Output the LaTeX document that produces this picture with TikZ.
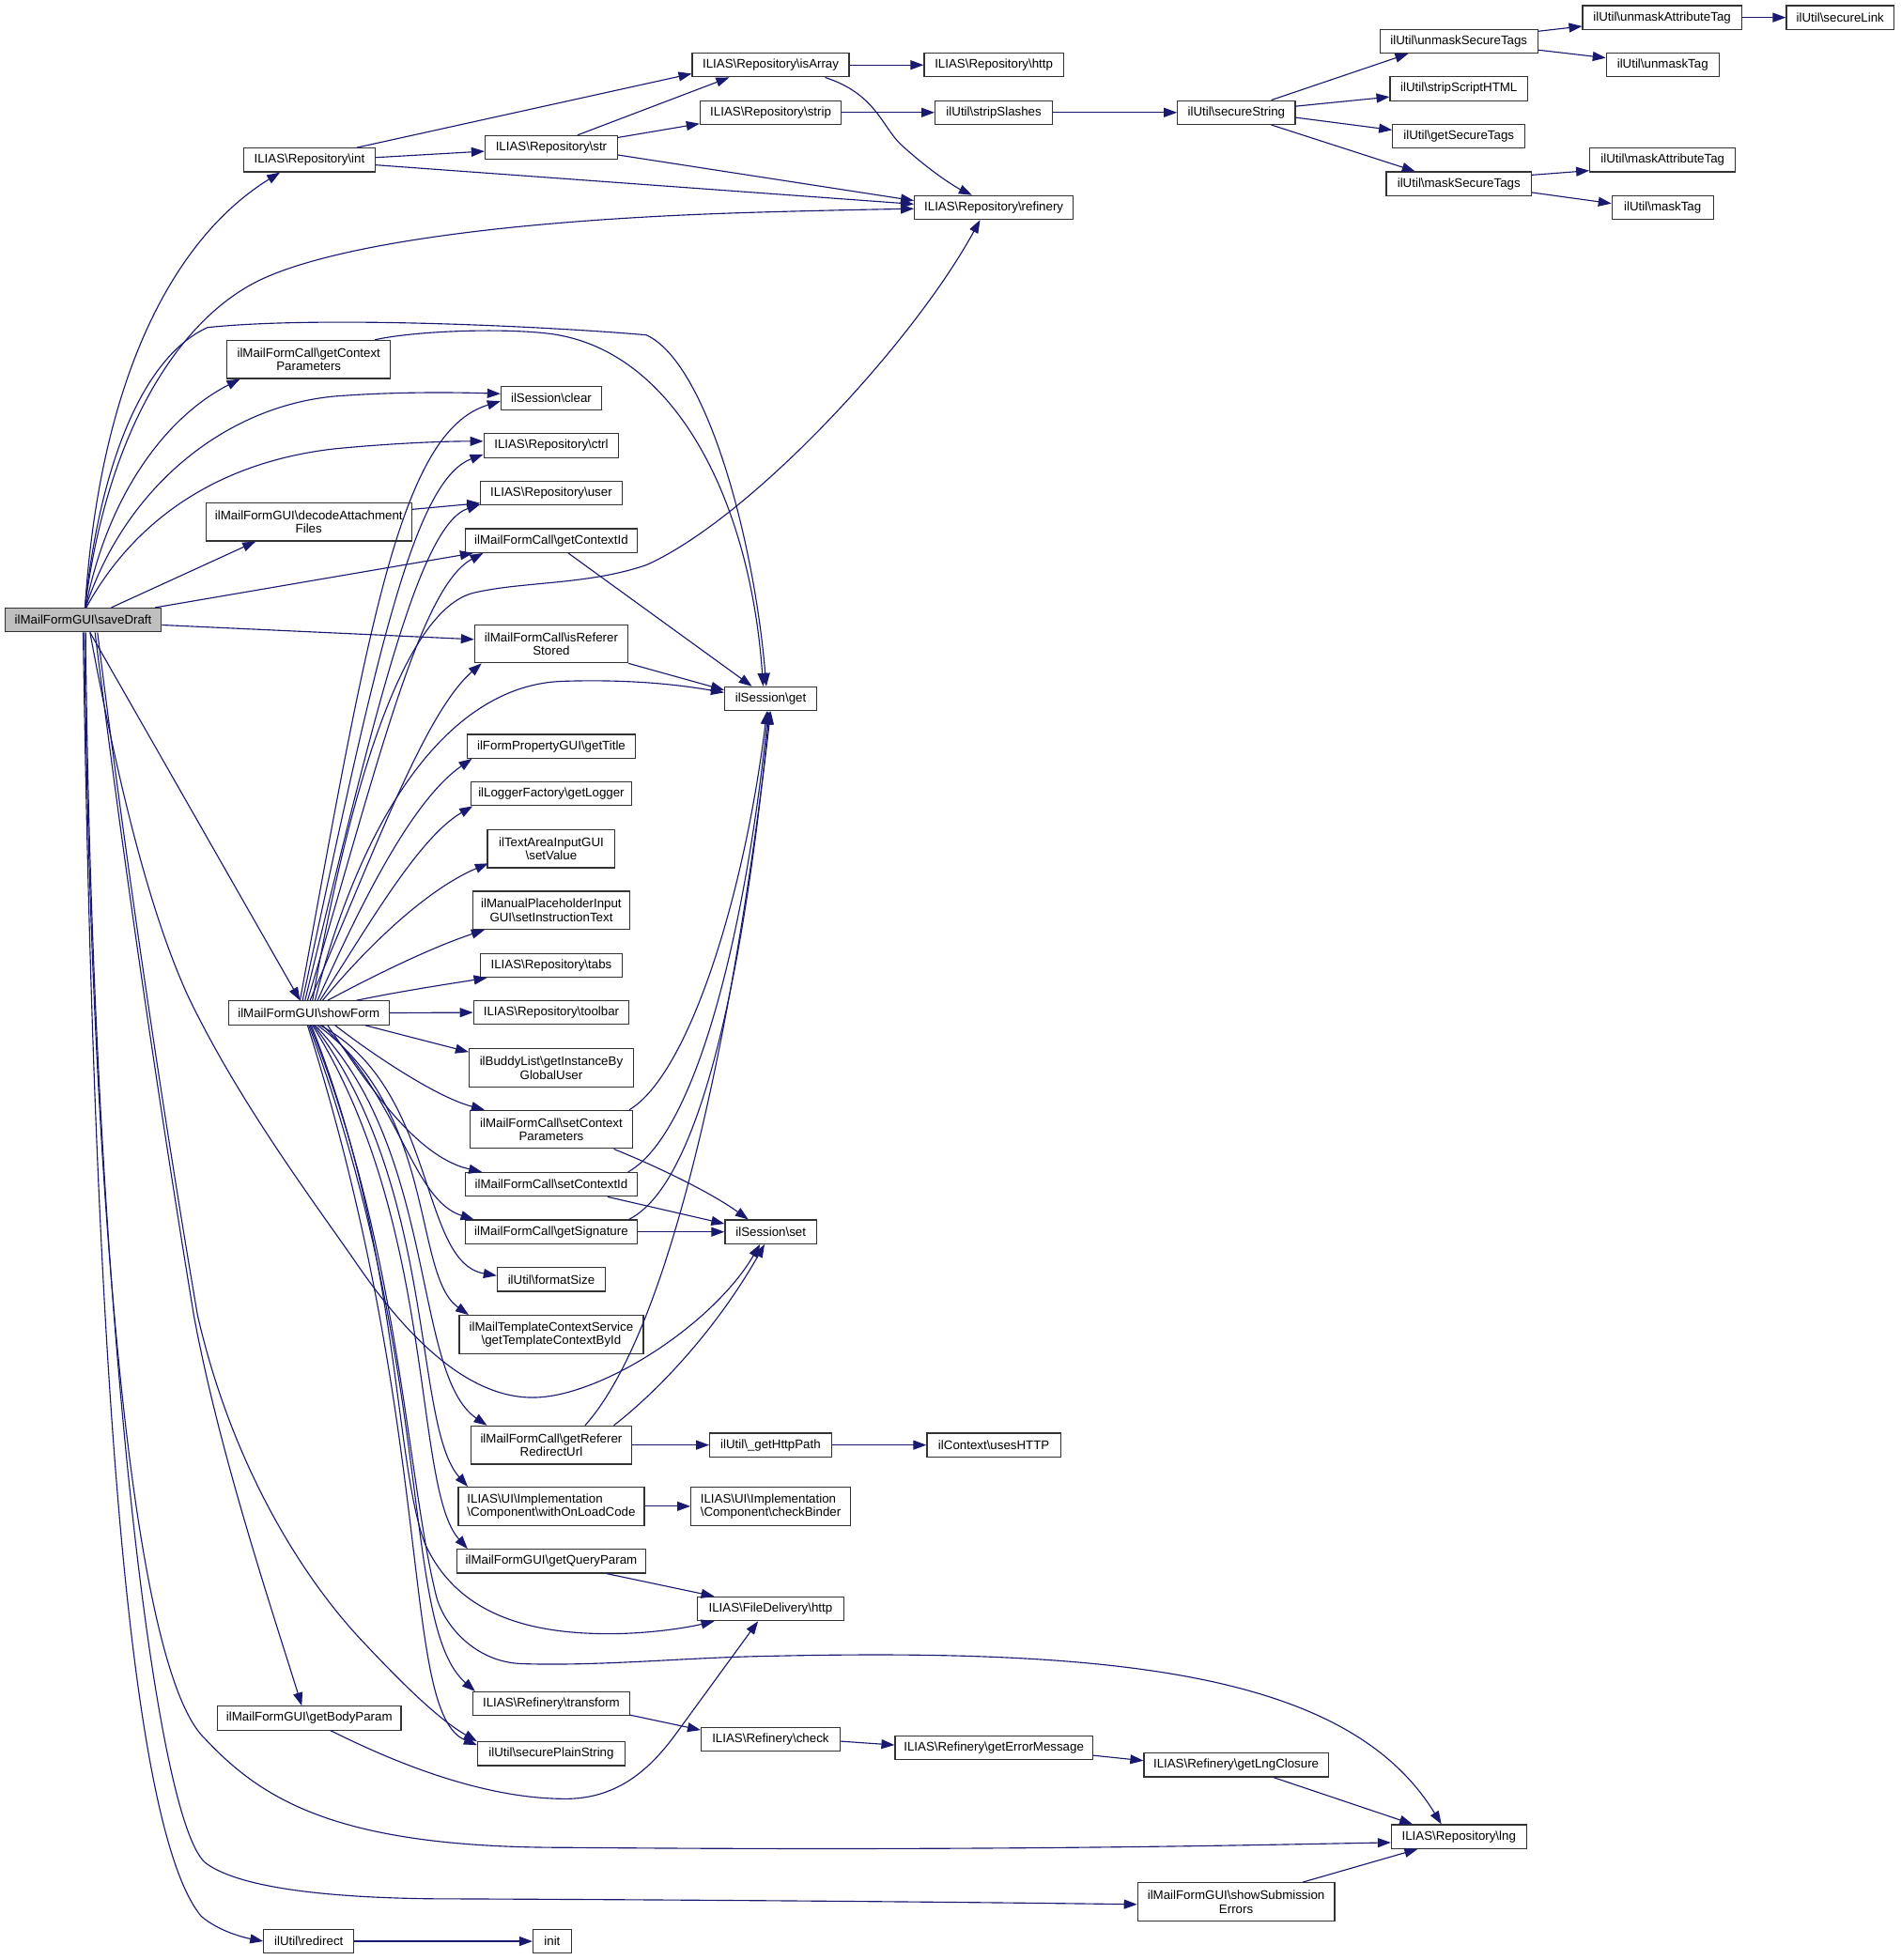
\documentclass[tikz,border=0pt]{standalone}
\usepackage{fontspec}
\setmainfont{Liberation Sans}
\usetikzlibrary{arrows.meta}
\definecolor{edgecol}{HTML}{191970}
\definecolor{nodefill}{HTML}{BFBFBF}
\newcommand{\bsl}{\textbackslash}
\begin{document}
\begin{tikzpicture}[x=1pt,y=-1pt,
 box/.style={draw=black!80, fill=white, line width=0.9pt, inner sep=0pt, minimum height=19pt, font=\fontsize{10}{10.8}\selectfont, align=center},
 boxtwo/.style={box, minimum height=30.5pt},
 edge/.style={draw=edgecol, line width=0.85pt, -{Triangle[length=10.5pt,width=7.5pt]}}]
\useasboundingbox[fill=white] (0,0) rectangle (1520,1568);

% nodes
\node[box, fill=nodefill, minimum width=125pt] (saveDraft) at (66.5,496) {ilMailFormGUI\bsl saveDraft};
\node[box, minimum width=105.5pt] (int) at (247.5,128) {ILIAS\bsl Repository\bsl int};
\node[box, minimum width=106pt] (str) at (441,118) {ILIAS\bsl Repository\bsl str};
\node[box, minimum width=125.5pt] (isArray) at (616.5,52) {ILIAS\bsl Repository\bsl isArray};
\node[box, minimum width=111.5pt] (rhttp) at (795,52) {ILIAS\bsl Repository\bsl http};
\node[box, minimum width=113pt] (strip) at (616.5,90) {ILIAS\bsl Repository\bsl strip};
\node[box, minimum width=94pt] (stripSlashes) at (795,90) {ilUtil\bsl stripSlashes};
\node[box, minimum width=94pt] (secureString) at (989,90) {ilUtil\bsl secureString};
\node[box, minimum width=127pt] (refinery) at (795,166) {ILIAS\bsl Repository\bsl refinery};
\node[box, minimum width=126pt] (unmaskSecureTags) at (1167,33) {ilUtil\bsl unmaskSecureTags};
\node[box, minimum width=127pt] (unmaskAttributeTag) at (1329.5,14) {ilUtil\bsl unmaskAttributeTag};
\node[box, minimum width=86pt] (secureLink) at (1472,14) {ilUtil\bsl secureLink};
\node[box, minimum width=90pt] (unmaskTag) at (1330,52) {ilUtil\bsl unmaskTag};
\node[box, minimum width=110pt] (stripScriptHTML) at (1167,71) {ilUtil\bsl stripScriptHTML};
\node[box, minimum width=106pt] (getSecureTags) at (1167,109) {ilUtil\bsl getSecureTags};
\node[box, minimum width=116pt] (maskSecureTags) at (1167,147) {ilUtil\bsl maskSecureTags};
\node[box, minimum width=116.5pt] (maskAttributeTag) at (1330,128) {ilUtil\bsl maskAttributeTag};
\node[box, minimum width=81pt] (maskTag) at (1330,166) {ilUtil\bsl maskTag};
\node[boxtwo, minimum width=130.6pt] (getContextParameters) at (247,287.5) {ilMailFormCall\bsl getContext\\Parameters};
\node[box, minimum width=80.5pt] (clear) at (441,318.4) {ilSession\bsl clear};
\node[box, minimum width=108pt] (ctrl) at (441,356.5) {ILIAS\bsl Repository\bsl ctrl};
\node[box, minimum width=113pt] (user) at (441,394.5) {ILIAS\bsl Repository\bsl user};
\node[boxtwo, minimum width=164.4pt] (decodeAttachmentFiles) at (247,417.5) {ilMailFormGUI\bsl decodeAttachment\\Files};
\node[box, minimum width=138pt] (getContextId) at (441,432.5) {ilMailFormCall\bsl getContextId};
\node[boxtwo, minimum width=122.6pt] (isRefererStored) at (441,515) {ilMailFormCall\bsl isReferer\\Stored};
\node[box, minimum width=73.7pt] (get) at (616.5,559) {ilSession\bsl get};
\node[box, minimum width=134pt] (getTitle) at (441,597) {ilFormPropertyGUI\bsl getTitle};
\node[box, minimum width=129pt] (getLogger) at (441,635) {ilLoggerFactory\bsl getLogger};
\node[boxtwo, minimum width=102pt] (setValue) at (441,679) {ilTextAreaInputGUI\\\bsl setValue};
\node[boxtwo, minimum width=126pt] (setInstructionText) at (441,728.2) {ilManualPlaceholderInput\\GUI\bsl setInstructionText};
\node[box, minimum width=114pt] (tabs) at (441,772.3) {ILIAS\bsl Repository\bsl tabs};
\node[box, minimum width=124.4pt] (toolbar) at (441,810) {ILIAS\bsl Repository\bsl toolbar};
\node[box, minimum width=128.5pt] (showForm) at (247,810.3) {ilMailFormGUI\bsl showForm};
\node[boxtwo, minimum width=131.4pt] (getInstanceByGlobalUser) at (441,854.3) {ilBuddyList\bsl getInstanceBy\\GlobalUser};
\node[boxtwo, minimum width=130pt] (setContextParameters) at (441,903.5) {ilMailFormCall\bsl setContext\\Parameters};
\node[box, minimum width=138pt] (setContextId) at (441,947.5) {ilMailFormCall\bsl setContextId};
\node[box, minimum width=137pt] (getSignature) at (441,985.5) {ilMailFormCall\bsl getSignature};
\node[box, minimum width=73.3pt] (set) at (616.6,985.5) {ilSession\bsl set};
\node[box, minimum width=86.5pt] (formatSize) at (441,1023.5) {ilUtil\bsl formatSize};
\node[boxtwo, minimum width=147.3pt] (getTemplateContextById) at (441,1067.6) {ilMailTemplateContextService\\\bsl getTemplateContextById};
\node[boxtwo, minimum width=128pt] (getRefererRedirectUrl) at (441,1156) {ilMailFormCall\bsl getReferer\\RedirectUrl};
\node[box, minimum width=97.3pt] (getHttpPath) at (616.4,1156) {ilUtil\bsl\_getHttpPath};
\node[box, minimum width=107pt] (usesHTTP) at (795,1156) {ilContext\bsl usesHTTP};
\node[boxtwo, minimum width=148.7pt, align=left] (withOnLoadCode) at (441,1205) {ILIAS\bsl UI\bsl Implementation\\\bsl Component\bsl withOnLoadCode};
\node[boxtwo, minimum width=127.7pt, align=left] (checkBinder) at (616.5,1205) {ILIAS\bsl UI\bsl Implementation\\\bsl Component\bsl checkBinder};
\node[box, minimum width=151pt] (getQueryParam) at (441,1249) {ilMailFormGUI\bsl getQueryParam};
\node[box, minimum width=116.7pt] (fhttp) at (616.4,1287) {ILIAS\bsl FileDelivery\bsl http};
\node[box, minimum width=125pt] (transform) at (441,1363) {ILIAS\bsl Refinery\bsl transform};
\node[box, minimum width=146.8pt] (getBodyParam) at (247.4,1374.5) {ilMailFormGUI\bsl getBodyParam};
\node[box, minimum width=111pt] (check) at (616.4,1391.5) {ILIAS\bsl Refinery\bsl check};
\node[box, minimum width=118pt] (securePlainString) at (441,1403) {ilUtil\bsl securePlainString};
\node[box, minimum width=158pt] (getErrorMessage) at (795,1398.3) {ILIAS\bsl Refinery\bsl getErrorMessage};
\node[box, minimum width=147.5pt] (getLngClosure) at (988.8,1412) {ILIAS\bsl Refinery\bsl getLngClosure};
\node[box, minimum width=108pt] (lng) at (1167,1469.3) {ILIAS\bsl Repository\bsl lng};
\node[boxtwo, minimum width=157.5pt] (showSubmissionErrors) at (988.8,1521.5) {ilMailFormGUI\bsl showSubmission\\Errors};
\node[box, minimum width=72pt] (redirect) at (247,1553) {ilUtil\bsl redirect};
\node[box, minimum width=30.6pt] (init) at (441.7,1553) {init};

% saveDraft edges
\draw[edge] ([xshift=1.5pt]saveDraft.north) .. controls (80,300) and (140,190) .. ([xshift=-23.5pt]int.south);
\draw[edge] ([xshift=1.5pt]saveDraft.north) .. controls (85,350) and (140,258) .. (206,225) .. controls (262,197) and (400,176) .. (601,170) .. controls (650,168.5) and (700,167.5) .. ([yshift=-1pt]refinery.west);
\draw[edge] ([xshift=1.5pt]saveDraft.north) .. controls (80,370) and (115,285) .. (166,262) .. controls (260,252) and (450,262) .. (517,268) .. controls (565,290) and (603,430) .. ([xshift=-3.5pt]get.north);
\draw[edge] ([xshift=2pt]saveDraft.north) .. controls (85,400) and (130,335) .. ([xshift=-55pt]getContextParameters.south);
\draw[edge] ([xshift=2pt]saveDraft.north) .. controls (100,390) and (180,325) .. (268,317) .. controls (320,313) and (370,314) .. ([yshift=3.4pt]clear.west);
\draw[edge] ([xshift=2.5pt]saveDraft.north) .. controls (105,420) and (170,370) .. (268,359) .. controls (320,354) and (360,353) .. ([yshift=3.5pt]ctrl.west);
\draw[edge] ([xshift=22.5pt]saveDraft.north) -- ([xshift=-42.5pt]decodeAttachmentFiles.south);
\draw[edge] ([xshift=57.5pt]saveDraft.north) -- ([xshift=7pt]getContextId.south west);
\draw[edge] ([yshift=-4pt]saveDraft.east) -- ([yshift=3.5pt]isRefererStored.west);
\draw[edge] ([xshift=5.5pt]saveDraft.south) -- ([xshift=-7pt]showForm.north);
\draw[edge] ([xshift=5.5pt]saveDraft.south) .. controls (95,630) and (120,730) .. (150,796) .. controls (190,880) and (250,960) .. (284,1009) .. controls (320,1062) and (370,1118) .. (426,1118) .. controls (480,1118) and (570,1060) .. ([xshift=-8.6pt]set.south);
\draw[edge] ([xshift=9.5pt]saveDraft.south) .. controls (100,700) and (130,900) .. (155,1052) .. controls (175,1160) and (215,1280) .. ([xshift=-6pt]getBodyParam.north);
\draw[edge] ([xshift=11.5pt]saveDraft.south) .. controls (102,700) and (132,900) .. (158,1052) .. controls (185,1170) and (240,1260) .. (290,1313) .. controls (320,1345) and (350,1375) .. (securePlainString.north west);
\draw[edge] ([xshift=1pt]saveDraft.south) .. controls (72,900) and (100,1330) .. (164,1391) .. controls (210,1440) and (270,1478) .. (451,1478) .. controls (800,1481) and (1000,1476) .. ([yshift=-4.7pt]lng.west);
\draw[edge] ([xshift=2pt]saveDraft.south) .. controls (73,1000) and (120,1450) .. (164,1490) .. controls (190,1510) and (260,1518) .. (345,1519) .. controls (600,1520) and (800,1522) .. ([yshift=-2pt]showSubmissionErrors.west);
\draw[edge] (saveDraft.south) .. controls (75,1050) and (100,1460) .. (161,1533) .. controls (175,1545) and (195,1550) .. (redirect.west);

% showForm edges
\draw[edge] ([xshift=-7pt]showForm.north) .. controls (295,500) and (320,345) .. ([yshift=-2.6pt]clear.west);
\draw[edge] ([xshift=-5pt]showForm.north) .. controls (300,530) and (330,385) .. ([yshift=-7pt]ctrl.west);
\draw[edge] ([xshift=-3pt]showForm.north) .. controls (300,570) and (335,420) .. ([yshift=-9pt]user.west);
\draw[edge] ([xshift=-1pt]showForm.north) .. controls (300,620) and (335,470) .. ([xshift=15pt]getContextId.south west);
\draw[edge] ([xshift=1pt]showForm.north) .. controls (300,680) and (340,570) .. ([xshift=6pt]isRefererStored.south west);
\draw[edge] ([xshift=3pt]showForm.north) .. controls (285,600) and (330,485) .. (380,474) .. controls (420,465) and (470,468) .. (517,452) .. controls (600,415) and (730,275) .. ([xshift=-11pt]refinery.south);
\draw[edge] ([xshift=5pt]showForm.north) .. controls (290,650) and (360,548) .. (450,545) .. controls (510,543) and (550,549) .. ([yshift=5pt]get.west);
\draw[edge] ([xshift=7pt]showForm.north) .. controls (290,720) and (330,640) .. ([xshift=4pt]getTitle.south west);
\draw[edge] ([xshift=9pt]showForm.north) .. controls (295,740) and (335,670) .. ([xshift=2pt]getLogger.south west);
\draw[edge] ([xshift=11pt]showForm.north) .. controls (300,750) and (345,710) .. ([xshift=1pt,yshift=4pt]setValue.south west);
\draw[edge] ([xshift=15pt]showForm.north) .. controls (300,780) and (345,758) .. ([xshift=10pt]setInstructionText.south west);
\draw[edge] ([xshift=38pt]showForm.north) .. controls (320,793) and (360,787) .. ([xshift=6pt]tabs.south west);
\draw[edge] (showForm.east) -- (toolbar.west);
\draw[edge] ([xshift=45pt]showForm.south) -- ([yshift=-3pt]getInstanceByGlobalUser.north west);
\draw[edge] ([xshift=21pt]showForm.south) .. controls (300,845) and (350,878) .. ([xshift=12pt]setContextParameters.north west);
\draw[edge] ([xshift=15pt]showForm.south) .. controls (290,860) and (330,925) .. ([xshift=14pt]setContextId.north west);
\draw[edge] ([xshift=11pt]showForm.south) .. controls (320,880) and (330,960) .. ([xshift=7pt]getSignature.north west);
\draw[edge] ([xshift=9pt]showForm.south) .. controls (350,870) and (335,1010) .. ([yshift=3pt]formatSize.west);
\draw[edge] ([xshift=7pt]showForm.south) .. controls (350,890) and (330,1020) .. ([xshift=8pt]getTemplateContextById.north west);
\draw[edge] ([xshift=5pt]showForm.south) .. controls (350,920) and (330,1100) .. ([xshift=13pt]getRefererRedirectUrl.north west);
\draw[edge] ([xshift=4pt]showForm.south) .. controls (350,950) and (330,1140) .. ([xshift=8pt]withOnLoadCode.north west);
\draw[edge] ([xshift=3pt]showForm.south) .. controls (350,980) and (330,1190) .. ([xshift=9pt]getQueryParam.north west);
\draw[edge] ([xshift=2pt]showForm.south) .. controls (320,1000) and (315,1170) .. (340,1235) .. controls (365,1290) and (420,1307) .. (487,1307) .. controls (520,1307) and (550,1302) .. ([xshift=-45pt]fhttp.south);
\draw[edge] ([xshift=1pt]showForm.south) .. controls (320,1000) and (325,1180) .. (349,1277) .. controls (355,1300) and (380,1330) .. (418,1331) .. controls (480,1333) and (550,1326) .. (610,1325) .. controls (900,1318) and (1080,1340) .. ([xshift=-14pt]lng.north);
\draw[edge] (showForm.south) .. controls (350,1100) and (320,1300) .. ([xshift=2pt]transform.north west);
\draw[edge] ([xshift=-1pt]showForm.south) .. controls (350,1150) and (320,1370) .. ([yshift=-3pt]securePlainString.north west);

% other edges
\draw[edge] ([xshift=38pt]int.north) -- ([yshift=3pt]isArray.south west);
\draw[edge] ([yshift=2pt]int.east) -- ([yshift=-3pt]str.west);
\draw[edge] ([yshift=-4pt]int.east) -- ([yshift=2.7pt]refinery.west);
\draw[edge] ([xshift=21pt]str.north) -- ([xshift=30pt]isArray.south west);
\draw[edge] ([yshift=8pt]str.east) -- ([yshift=1pt]strip.south west);
\draw[edge] ([yshift=-6pt]str.east) -- ([yshift=5.5pt]refinery.west);
\draw[edge] (isArray.east) -- (rhttp.west);
\draw[edge] ([xshift=43.5pt]isArray.south) .. controls (700,75) and (705,100) .. (720,115) .. controls (745,138) and (765,150) .. ([xshift=-17.5pt]refinery.north);
\draw[edge] (strip.east) -- (stripSlashes.west);
\draw[edge] (stripSlashes.east) -- (secureString.west);
\draw[edge] ([xshift=28pt]secureString.north) -- ([xshift=-40.5pt]unmaskSecureTags.south);
\draw[edge] ([yshift=5pt]secureString.east) -- ([yshift=-6.5pt]stripScriptHTML.west);
\draw[edge] ([yshift=-4pt]secureString.east) -- ([yshift=5pt]getSecureTags.west);
\draw[edge] ([xshift=28pt]secureString.south) -- ([xshift=-35pt]maskSecureTags.north);
\draw[edge] ([yshift=8pt]unmaskSecureTags.east) -- ([yshift=-7pt]unmaskAttributeTag.west);
\draw[edge] ([yshift=-7pt]unmaskSecureTags.east) -- ([yshift=5.7pt]unmaskTag.west);
\draw[edge] (unmaskAttributeTag.east) -- (secureLink.west);
\draw[edge] ([yshift=7pt]maskSecureTags.east) -- ([yshift=-8.5pt]maskAttributeTag.west);
\draw[edge] ([yshift=-7pt]maskSecureTags.east) -- ([yshift=3.2pt]maskTag.west);
\draw[edge] ([xshift=53pt]getContextParameters.north) .. controls (330,265) and (400,262) .. (440,267) .. controls (540,280) and (600,400) .. ([xshift=-6pt]get.north);
\draw[edge] ([yshift=10pt]decodeAttachmentFiles.east) -- ([yshift=-8pt]user.west);
\draw[edge] ([xshift=13.5pt]getContextId.south) -- ([xshift=-15pt]get.north);
\draw[edge] (isRefererStored.south east) -- ([yshift=7pt]get.west);
\draw[edge] ([xshift=-3pt]setContextParameters.north east) .. controls (550,860) and (595,720) .. ([xshift=-3pt]get.south);
\draw[edge] ([xshift=50pt]setContextParameters.south) .. controls (530,935) and (570,955) .. ([xshift=-18pt]set.north);
\draw[edge] ([xshift=-8pt]setContextId.north east) .. controls (560,905) and (598,730) .. ([xshift=-2pt]get.south);
\draw[edge] ([xshift=45pt]setContextId.south) -- ([yshift=6.5pt]set.west);
\draw[edge] ([xshift=-7pt]getSignature.north east) .. controls (565,945) and (598,750) .. ([xshift=-1pt]get.south);
\draw[edge] (getSignature.east) -- (set.west);
\draw[edge] ([xshift=27pt]getRefererRedirectUrl.north) .. controls (540,1060) and (590,800) .. (get.south);
\draw[edge] ([xshift=50pt]getRefererRedirectUrl.north) .. controls (530,1110) and (575,1060) .. ([xshift=-5pt]set.south);
\draw[edge] (getRefererRedirectUrl.east) -- (getHttpPath.west);
\draw[edge] (getHttpPath.east) -- (usesHTTP.west);
\draw[edge] (withOnLoadCode.east) -- (checkBinder.west);
\draw[edge] ([xshift=44.5pt]getQueryParam.south) -- ([xshift=-45pt]fhttp.north);
\draw[edge] ([xshift=17pt]getBodyParam.south) .. controls (300,1402) and (380,1440) .. (455,1439) .. controls (495,1438) and (520,1415) .. (540,1388) -- ([xshift=-10pt]fhttp.south);
\draw[edge] ([yshift=-9pt]transform.east) -- ([yshift=7.5pt]check.west);
\draw[edge] ([yshift=-1.5pt]check.east) -- ([yshift=2.3pt]getErrorMessage.west);
\draw[edge] ([yshift=-6pt]getErrorMessage.east) -- ([yshift=3.5pt]getLngClosure.west);
\draw[edge] ([xshift=30pt]getLngClosure.south) -- ([xshift=-37pt]lng.north);
\draw[edge] ([xshift=53pt]showSubmissionErrors.north) -- ([xshift=-33pt]lng.south);
\draw[edge] (redirect.east) -- (init.west);
\end{tikzpicture}
\end{document}
